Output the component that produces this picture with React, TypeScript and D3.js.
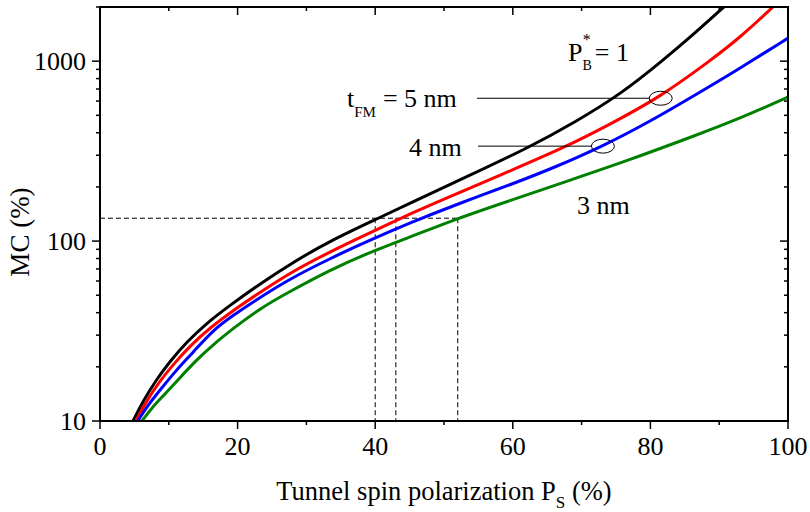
import React from 'react';
import * as d3 from 'd3';

// curve values: [P_S (%), MC (%)]
const black5nm = [[4.8,10],[6.3,13],[8.2,17],[10.2,21.5],[12.6,27.5],[15.5,35],[18.9,44],[23.3,58],[28,76],[33.4,100],[39.9,131],[45,162],[53,225],[62.4,332],[69,457],[75.8,660],[81.8,1010],[86,1380],[91,2050]];
const red5nm = [[5.2,10],[6.7,12.8],[8.6,16.5],[10.6,20.5],[13,26],[16,33],[19.3,41],[23.3,52],[28,68],[33.4,87],[39,110],[43.1,131],[50,171],[58,231],[67.6,332],[74.1,445],[81.5,635],[88.6,1000],[93,1350],[97.8,2000]];
const blue4nm = [[5.5,10],[7,12.3],[9,15.3],[11,19],[13.5,24],[16.4,32],[19.5,39],[22.3,46],[27,60],[33.4,80],[39.2,101],[45,126],[52,161],[60,208],[66,256],[73.1,337],[80,463],[87.7,690],[93,912],[100,1343]];
const green3nm = [[6.1,10],[7.5,11.8],[9.2,13.8],[11.5,17.2],[14,21.8],[16.4,26.5],[19.5,33],[23.2,42],[27,51],[33.4,69],[39,86],[45,105],[52,134],[60,170],[68,216],[76.9,282],[86.7,388],[93,480],[100,631]];

const series = [
  { name: 't5', data: black5nm, color: '#000000' },
  { name: 't5red', data: red5nm, color: '#ff0000' },
  { name: 't4', data: blue4nm, color: '#0000ff' },
  { name: 't3', data: green3nm, color: '#008000' },
];

const xTicks = [0, 20, 40, 60, 80, 100];
const xMinor = [10, 30, 50, 70, 90];
const yTicks = [10, 100, 1000];

// dashed guide lines
const guideMC = 134;
const guidePs = [40, 43, 52];

const FONT = "'Liberation Serif', 'Times New Roman', Times, 'DejaVu Serif', serif";

const App = () => {
  const svgRef = React.useRef(null);

  const margin = { top: 7, right: 22, bottom: 91, left: 100 };
  const W = 810, H = 512;
  const width = W - margin.left - margin.right;
  const height = H - margin.top - margin.bottom;

  React.useEffect(() => {
    const svg = d3.select(svgRef.current);
    svg.selectAll('*').remove();

    const x = d3.scaleLinear().domain([0, 100]).range([0, width]);
    const y = d3.scaleLog().domain([10, 2000]).range([height, 0]);

    const g = svg.append('g').attr('transform', `translate(${margin.left},${margin.top})`);

    g.append('clipPath').attr('id', 'plotclip')
      .append('rect').attr('width', width).attr('height', height);

    // minor y ticks
    const yMinor = [];
    [10, 100, 1000].forEach(d => {
      for (let k = 2; k <= 9; k++) if (d * k <= 2000) yMinor.push(d * k);
    });

    // dashed guides
    const guides = g.append('g').attr('stroke', 'black').attr('stroke-width', 1)
      .attr('stroke-dasharray', '5,3').attr('fill', 'none');
    guides.append('line')
      .attr('x1', x(0)).attr('x2', x(d3.max(guidePs)))
      .attr('y1', y(guideMC)).attr('y2', y(guideMC));
    guidePs.forEach(p => {
      guides.append('line')
        .attr('x1', x(p)).attr('x2', x(p))
        .attr('y1', y(guideMC)).attr('y2', y(10));
    });

    // curves
    const line = d3.line()
      .x(d => x(d[0]))
      .y(d => y(d[1]))
      .curve(d3.curveBasis);

    g.append('g').attr('clip-path', 'url(#plotclip)')
      .selectAll('path')
      .data(series)
      .enter()
      .append('path')
      .attr('d', d => line(d.data))
      .attr('fill', 'none')
      .attr('stroke', d => d.color)
      .attr('stroke-width', 3);

    // frame
    g.append('rect')
      .attr('width', width).attr('height', height)
      .attr('fill', 'none').attr('stroke', 'black').attr('stroke-width', 2);

    const ticks = g.append('g').attr('stroke', 'black').attr('stroke-width', 1.5);
    // bottom (outward) and top (inward)
    xTicks.forEach(t => {
      ticks.append('line').attr('x1', x(t)).attr('x2', x(t)).attr('y1', height).attr('y2', height + 8);
      ticks.append('line').attr('x1', x(t)).attr('x2', x(t)).attr('y1', 0).attr('y2', 8);
    });
    xMinor.forEach(t => {
      ticks.append('line').attr('x1', x(t)).attr('x2', x(t)).attr('y1', height).attr('y2', height + 4);
      ticks.append('line').attr('x1', x(t)).attr('x2', x(t)).attr('y1', 0).attr('y2', 4);
    });
    // left (outward) and right (inward)
    yTicks.forEach(t => {
      ticks.append('line').attr('x1', -8).attr('x2', 0).attr('y1', y(t)).attr('y2', y(t));
      ticks.append('line').attr('x1', width - 8).attr('x2', width).attr('y1', y(t)).attr('y2', y(t));
    });
    yMinor.forEach(t => {
      ticks.append('line').attr('x1', -4).attr('x2', 0).attr('y1', y(t)).attr('y2', y(t));
      ticks.append('line').attr('x1', width - 4).attr('x2', width).attr('y1', y(t)).attr('y2', y(t));
    });

    // tick labels
    g.append('g').selectAll('text').data(xTicks).enter().append('text')
      .attr('x', d => x(d)).attr('y', height + 34)
      .attr('text-anchor', 'middle')
      .attr('font-size', 26)
      .text(d => d);

    g.append('g').selectAll('text').data(yTicks).enter().append('text')
      .attr('x', -14).attr('y', d => y(d)).attr('dy', '0.35em')
      .attr('text-anchor', 'end')
      .attr('font-size', 26)
      .text(d => d);

    // axis titles
    const xt = svg.append('text')
      .attr('x', 444).attr('y', 500)
      .attr('text-anchor', 'middle')
      .attr('font-size', 26.5);
    xt.append('tspan').text('Tunnel spin polarization P');
    xt.append('tspan').attr('dy', 8).attr('font-size', 17).text('S');
    xt.append('tspan').attr('dy', -8).text(' (%)');

    svg.append('text')
      .attr('transform', 'translate(29,232) rotate(-90)')
      .attr('text-anchor', 'middle')
      .attr('font-size', 27)
      .text('MC (%)');

    // annotations
    const ann = svg.append('g').attr('font-size', 26);

    const pb = ann.append('text').attr('x', 568).attr('y', 61);
    pb.append('tspan').text('P');
    pb.append('tspan').attr('dx', 0).attr('dy', 9).attr('font-size', 14).text('B');
    pb.append('tspan').attr('dx', -9).attr('dy', -25).attr('font-size', 16).text('*');
    pb.append('tspan').attr('dx', 4).attr('dy', 16).text('= 1');

    const tf = ann.append('text').attr('x', 347).attr('y', 107);
    tf.append('tspan').text('t');
    tf.append('tspan').attr('dy', 10).attr('font-size', 15).text('FM');
    tf.append('tspan').attr('dx', 7).attr('dy', -10).text('= 5 nm');

    ann.append('text').attr('x', 409).attr('y', 156).text('4 nm');
    ann.append('text').attr('x', 577).attr('y', 214).text('3 nm');

    const lead = svg.append('g').attr('stroke', 'black').attr('stroke-width', 1).attr('fill', 'none');
    const px = p => margin.left + x(p);
    const py = v => margin.top + y(v);
    // leader to red curve (5 nm)
    lead.append('line').attr('x1', 477).attr('x2', px(81.5) - 11).attr('y1', py(622)).attr('y2', py(622));
    lead.append('ellipse').attr('cx', px(81.5)).attr('cy', py(622)).attr('rx', 11.5).attr('ry', 7);
    // leader to blue curve (4 nm)
    lead.append('line').attr('x1', 478).attr('x2', px(73.1) - 11).attr('y1', py(337)).attr('y2', py(337));
    lead.append('ellipse').attr('cx', px(73.1)).attr('cy', py(337)).attr('rx', 11.5).attr('ry', 7);

  // eslint-disable-next-line react-hooks/exhaustive-deps
  }, []);

  return (
    <svg ref={svgRef} width={W} height={H} fontFamily={FONT}
      style={{ position: 'absolute', left: 0, top: 0, background: 'white' }} />
  );
};

export default App;
